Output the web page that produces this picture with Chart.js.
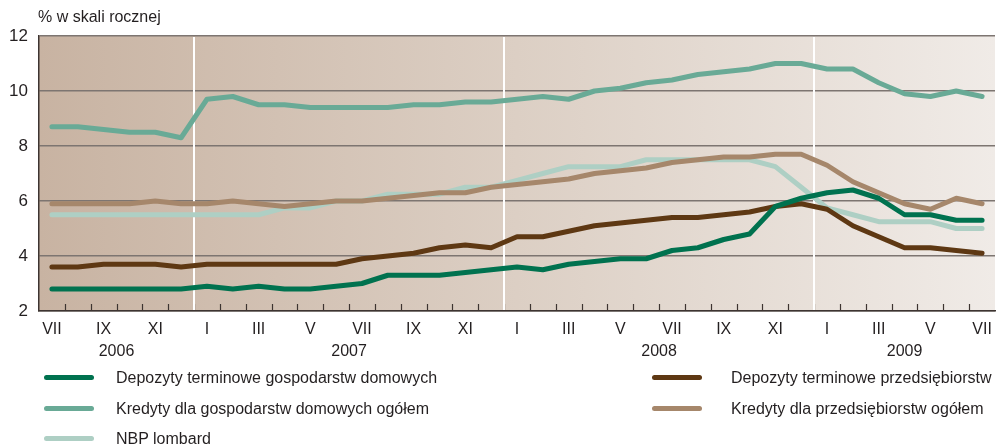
<!DOCTYPE html>
<html>
<head>
<meta charset="utf-8">
<script src="https://cdn.jsdelivr.net/npm/chart.js@4.4.0/dist/chart.umd.min.js"></script>
<style>
  body { margin: 0; background: #fff; }
  #wrap { position: relative; width: 996px; height: 446px; font-family: "Liberation Sans", Arial, sans-serif; }
  #title { position: absolute; left: 38px; top: 8px; font-size: 16px; color: #231f20; }
  .leg { position: absolute; font-size: 16px; color: #231f20; white-space: nowrap; }
  .leg i { position: absolute; left: 0; top: 7px; width: 50px; height: 5px; border-radius: 3px; }
  .leg span { position: absolute; top: 0; line-height: 19px; }
</style>
</head>
<body>
<div id="wrap">
  <canvas id="myChart" width="996" height="446"></canvas>
  <div id="title">% w skali rocznej</div>
  <div id="legend"></div>
</div>
<script>
var months = ['VII','VIII','IX','X','XI','XII',
  'I','II','III','IV','V','VI','VII','VIII','IX','X','XI','XII',
  'I','II','III','IV','V','VI','VII','VIII','IX','X','XI','XII',
  'I','II','III','IV','V','VI','VII'];
var years = ['2006', '2007', '2008', '2009'];
var yearStart = [0, 6, 18, 30];
var yearEnd = [5, 17, 29, 36];

var depGosp = [2.8,2.8,2.8,2.8,2.8,2.8, 2.9,2.8,2.9,2.8,2.8,2.9, 3.0,3.3,3.3,3.3,3.4,3.5,
  3.6,3.5,3.7,3.8,3.9,3.9, 4.2,4.3,4.6,4.8,5.8,6.1, 6.3,6.4,6.1,5.5,5.5,5.3,5.3];
var depPrzed = [3.6,3.6,3.7,3.7,3.7,3.6, 3.7,3.7,3.7,3.7,3.7,3.7, 3.9,4.0,4.1,4.3,4.4,4.3,
  4.7,4.7,4.9,5.1,5.2,5.3, 5.4,5.4,5.5,5.6,5.8,5.9, 5.7,5.1,4.7,4.3,4.3,4.2,4.1];
var kredGosp = [8.7,8.7,8.6,8.5,8.5,8.3, 9.7,9.8,9.5,9.5,9.4,9.4, 9.4,9.4,9.5,9.5,9.6,9.6,
  9.7,9.8,9.7,10.0,10.1,10.3, 10.4,10.6,10.7,10.8,11.0,11.0, 10.8,10.8,10.3,9.9,9.8,10.0,9.8];
var kredPrzed = [5.9,5.9,5.9,5.9,6.0,5.9, 5.9,6.0,5.9,5.8,5.9,6.0, 6.0,6.1,6.2,6.3,6.3,6.5,
  6.6,6.7,6.8,7.0,7.1,7.2, 7.4,7.5,7.6,7.6,7.7,7.7, 7.3,6.7,6.3,5.9,5.7,6.1,5.9];
var lombard = [5.5,5.5,5.5,5.5,5.5,5.5, 5.5,5.5,5.5,5.75,5.75,6.0, 6.0,6.25,6.25,6.25,6.5,6.5,
  6.75,7.0,7.25,7.25,7.25,7.5, 7.5,7.5,7.5,7.5,7.25,6.5, 5.75,5.5,5.25,5.25,5.25,5.0,5.0];

var seriesNames = ['Depozyty terminowe gospodarstw domowych', 'Depozyty terminowe przedsiębiorstw',
  'Kredyty dla gospodarstw domowych ogółem', 'Kredyty dla przedsiębiorstw ogółem', 'NBP lombard'];
var seriesData = [depGosp, depPrzed, kredGosp, kredPrzed, lombard];
var seriesColors = ['#00724f', '#5e3813', '#69aa96', '#a6876b', '#aecfc4'];

var yTicks = [2, 4, 6, 8, 10, 12];
var FONT = '"Liberation Sans", Arial, sans-serif';

// background, year lines, tick marks and year labels
var decor = {
  id: 'decor',
  beforeDraw: function(chart) {
    var ctx = chart.ctx, a = chart.chartArea;
    var g = ctx.createLinearGradient(a.left, 0, a.right, 0);
    g.addColorStop(0, '#c8b3a2');
    g.addColorStop(0.5, '#dccfc4');
    g.addColorStop(1, '#f0ebe7');
    ctx.save();
    ctx.fillStyle = g;
    ctx.fillRect(a.left, a.top, a.right - a.left, a.bottom - a.top);
    ctx.restore();
  },
  beforeDatasetsDraw: function(chart) {
    var ctx = chart.ctx, a = chart.chartArea, x = chart.scales.x;
    var step = x.getPixelForValue(1) - x.getPixelForValue(0);
    ctx.save();
    ctx.strokeStyle = '#3d3431';
    ctx.lineWidth = 1.2;
    for (var i = 0; i < months.length - 1; i++) {
      var px = Math.round(x.getPixelForValue(i) + step / 2) + 0.5;
      ctx.beginPath();
      ctx.moveTo(px, a.bottom - 7);
      ctx.lineTo(px, a.bottom);
      ctx.stroke();
    }
    ctx.strokeStyle = '#ffffff';
    ctx.lineWidth = 2;
    for (var k = 1; k < yearStart.length; k++) {
      var bx = Math.round(x.getPixelForValue(yearStart[k]) - step / 2);
      ctx.beginPath();
      ctx.moveTo(bx, a.top + 1);
      ctx.lineTo(bx, a.bottom - 1);
      ctx.stroke();
    }
    ctx.fillStyle = '#231f20';
    ctx.font = '16px ' + FONT;
    ctx.textAlign = 'center';
    ctx.textBaseline = 'middle';
    for (var j = 0; j < years.length; j++) {
      var cx = (x.getPixelForValue(yearStart[j]) + x.getPixelForValue(yearEnd[j])) / 2;
      ctx.fillText(years[j], cx, a.bottom + 41);
    }
    ctx.restore();
  }
};

var datasets = [];
for (var s = 0; s < seriesData.length; s++) {
  datasets.push({
    label: seriesNames[s],
    data: seriesData[s],
    borderColor: seriesColors[s],
    backgroundColor: seriesColors[s],
    borderWidth: 5,
    pointRadius: 0,
    tension: 0,
    borderJoinStyle: 'round',
    borderCapStyle: 'round',
    order: s + 1
  });
}
// lombard goes under light brown
datasets[4].order = 6;
datasets[3].order = 5;

var ctx = document.getElementById('myChart').getContext('2d');
var myChart = new Chart(ctx, {
  type: 'line',
  data: { labels: months, datasets: datasets },
  plugins: [decor],
  options: {
    responsive: false,
    animation: false,
    layout: { padding: { top: 36, right: 1, left: 0, bottom: 81 } },
    plugins: { legend: { display: false }, tooltip: { enabled: false } },
    scales: {
      x: {
        offset: true,
        grid: { display: false, drawTicks: false },
        border: { display: true, color: '#3d3431', width: 1.5 },
        ticks: {
          autoSkip: false, maxRotation: 0, padding: 9,
          color: '#231f20', font: { family: FONT, size: 16 },
          callback: function(v, i) { return i % 2 === 0 ? months[i] : ''; }
        },
        afterFit: function(sc) { sc.height = 54; sc.paddingLeft = 0; sc.paddingRight = 0; }
      },
      y: {
        min: yTicks[0], max: yTicks[yTicks.length - 1],
        afterBuildTicks: function(sc) { sc.ticks = yTicks.map(function(v) { return { value: v }; }); },
        grid: { color: '#7d7571', lineWidth: 1.5, drawTicks: false },
        border: { display: true, color: '#3d3431', width: 1.5 },
        ticks: { padding: 11, color: '#231f20', font: { family: FONT, size: 17 } },
        afterFit: function(sc) { sc.width = 39; sc.paddingTop = 0; sc.paddingBottom = 0; }
      }
    }
  }
});

// legend as html, two columns
var legPos = [[44, 368, 72], [652, 368, 79], [44, 399, 72], [652, 399, 79], [44, 429, 72]];
var legend = document.getElementById('legend');
seriesNames.forEach(function(name, n) {
  var d = document.createElement('div');
  d.className = 'leg';
  d.style.left = legPos[n][0] + 'px';
  d.style.top = legPos[n][1] + 'px';
  var sw = document.createElement('i');
  sw.style.background = seriesColors[n];
  var tx = document.createElement('span');
  tx.style.left = legPos[n][2] + 'px';
  tx.textContent = name;
  d.appendChild(sw);
  d.appendChild(tx);
  legend.appendChild(d);
});
</script>
</body>
</html>
